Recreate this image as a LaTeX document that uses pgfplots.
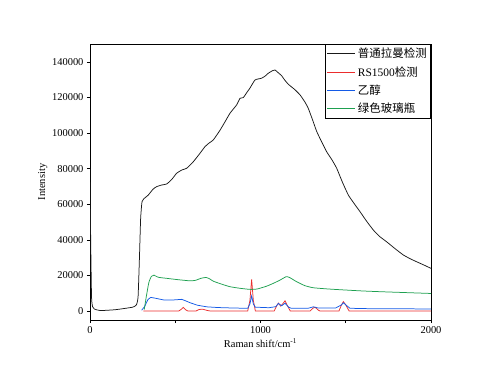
\documentclass[border=0pt]{standalone}
\usepackage{pgfplots}
\pgfplotsset{compat=1.18}
\usepackage{fontspec}
\setmainfont{Liberation Serif}
\newfontfamily\cjk{Noto Sans CJK SC}
\definecolor{cblack}{rgb}{0.1,0.1,0.1}
\definecolor{cred}{RGB}{235,45,45}
\definecolor{cblue}{RGB}{20,90,230}
\definecolor{cgreen}{RGB}{30,160,80}
\begin{document}
\begin{tikzpicture}
\begin{axis}[
  scale only axis,
  width=341bp, height=276bp,
  xmin=0, xmax=2000, ymin=-5000, ymax=150000,
  xtick={0,500,1000,1500,2000},
  xticklabels={0,,1000,,2000},
  ytick={0,20000,...,140000},
  scaled y ticks=false,
  yticklabel style={/pgf/number format/fixed,/pgf/number format/1000 sep={}},
  /pgf/number format/assume math mode=true,
  tick align=outside,
  tick pos=left,
  major tick length=3bp,
  tick style={black, line width=0.6pt},
  axis line style={black, line width=0.8pt},
  ticklabel style={font=\fontsize{10.5}{12}\selectfont},
  label style={font=\fontsize{10.5}{12}\selectfont},
  xlabel={Raman shift/cm\textsuperscript{-1}},
  ylabel={Intensity},
  xlabel style={yshift=2bp},
  ylabel style={yshift=-2bp},
  legend style={at={(1,1)}, anchor=north east, font=\fontsize{11.5}{13}\selectfont, draw=black, line width=0.6pt, inner xsep=2pt, inner ysep=2pt, row sep=3pt, cells={anchor=west}},
  legend image code/.code={\draw[#1, line width=1pt] (0cm,0cm) -- (28bp,0cm);},
  every axis plot/.append style={line width=0.75pt},
]
\addplot[cblack, smooth, tension=0.3] coordinates {
(0,80000)(4,40000)(9,8000)(15,2500)(25,1200)(60,300)(150,800)(250,2200)(272,3500)(282,8000)(290,30000)(297,52000)(305,61500)(315,63000)(342,65200)(370,68500)(391,69900)(420,70800)(450,71400)(480,74000)(508,77400)(540,79300)(567,80200)(606,83900)(640,88000)(674,92300)(700,94500)(723,96100)(762,101500)(790,106000)(821,111100)(860,115800)(880,119500)(899,119900)(920,122800)(938,125200)(968,129800)(1007,130800)(1030,132200)(1046,133600)(1070,135000)(1085,135400)(1100,134200)(1124,132200)(1140,130000)(1163,127400)(1200,124500)(1232,121400)(1260,117500)(1280,113900)(1305,107500)(1330,100800)(1360,94800)(1388,89500)(1420,84800)(1447,80200)(1480,72500)(1515,65200)(1550,60300)(1584,55800)(1620,50800)(1662,45500)(1700,41800)(1740,38900)(1790,35000)(1838,31500)(1880,29300)(1916,27700)(1960,25800)(2000,24000)
};
\addlegendentry{{\cjk 普通拉曼检测}}
\addplot[cred] coordinates {
(313,0)(520,0)(535,1000)(547,2100)(560,800)(575,0)(620,0)(640,900)(660,1100)(690,300)(710,0)(925,0)(938,6000)(948,17800)(958,6000)(970,0)(1080,0)(1095,3000)(1105,4500)(1118,2800)(1130,4000)(1144,5800)(1158,3000)(1175,0)(1290,0)(1310,1800)(1320,2200)(1340,500)(1350,0)(1460,0)(1475,3500)(1486,5300)(1500,3500)(1520,0)(2000,0)
};
\addlegendentry{RS1500{\cjk 检测}}
\addplot[cblue] coordinates {
(303,500)(320,2500)(340,6500)(356,7700)(380,7300)(430,6300)(480,6200)(538,6600)(560,5800)(587,4700)(630,3300)(684,2400)(750,2000)(850,1700)(925,1600)(938,4000)(948,8500)(958,4000)(970,2200)(1050,1900)(1090,2500)(1105,4300)(1124,3000)(1144,4400)(1165,2200)(1180,1600)(1280,1600)(1310,2400)(1340,1700)(1440,1700)(1475,3500)(1486,4700)(1500,3500)(1525,1600)(1600,1400)(1800,1300)(2000,1200)
};
\addlegendentry{{\cjk 乙醇}}
\addplot[cgreen, smooth, tension=0.3] coordinates {
(318,800)(330,8000)(345,16000)(360,19500)(375,20200)(400,19000)(450,18400)(520,17600)(587,17000)(620,17300)(650,18400)(680,18900)(700,18200)(723,16800)(770,15200)(821,13700)(880,12800)(938,12200)(980,12400)(1036,14000)(1080,15800)(1114,17400)(1150,19300)(1170,18900)(1212,16500)(1260,14300)(1310,13100)(1400,12400)(1505,11800)(1600,11300)(1701,10900)(1850,10400)(2000,9900)
};
\addlegendentry{{\cjk 绿色玻璃瓶}}
\end{axis}
\path ([shift={(-90bp,-62bp)}]current axis.south west) rectangle ([shift={(69bp,44bp)}]current axis.north east);
\end{tikzpicture}
\end{document}
